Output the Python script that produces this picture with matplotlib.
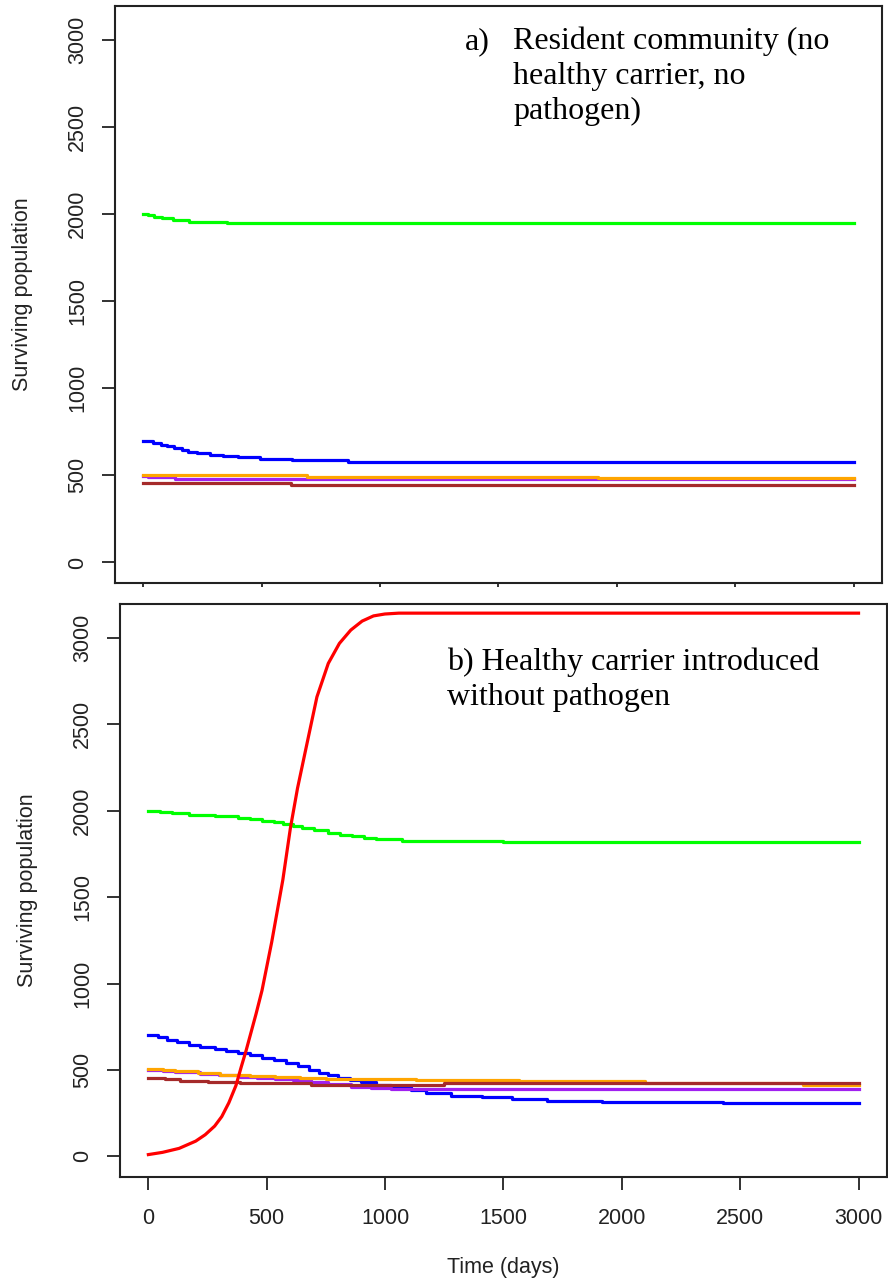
import matplotlib
matplotlib.use("Agg")
import matplotlib.pyplot as plt

# ── Panel a: resident community only (step change points) ────────────────────
a_green_t = [0, 21, 45, 80, 124, 194, 352, 3000]
a_green_v = [2000, 1994, 1986, 1977, 1967, 1957, 1950, 1950]

a_blue_t = [0, 21, 42, 73, 101, 129, 162, 190, 225, 281, 335, 401, 493, 626, 866, 3000]
a_blue_v = [700, 695, 685, 676, 666, 657, 647, 637, 628, 618, 612, 605, 595, 588, 578, 578]

a_orange_t = [0, 690, 1920, 3000]
a_orange_v = [500, 493, 486, 486]

a_purple_t = [0, 21, 133, 3000]
a_purple_v = [498, 490, 480, 480]

a_brown_t = [0, 622, 3000]
a_brown_v = [455, 445, 445]

# ── Panel b: healthy carrier introduced ──────────────────────────────────────
b_green_t = [0, 50, 100, 170, 280, 380, 430, 480, 530, 570, 610, 650, 700, 760,
             810, 860, 910, 960, 1070, 1500, 3000]
b_green_v = [2000, 1993, 1987, 1977, 1970, 1960, 1952, 1943, 1935, 1925, 1912,
             1900, 1888, 1874, 1862, 1852, 1843, 1835, 1824, 1817, 1817]

b_blue_t = [0, 40, 80, 120, 170, 220, 280, 330, 380, 430, 480, 530, 580, 630,
            680, 720, 760, 800, 850, 900, 960, 1025, 1110, 1174, 1280, 1408,
            1535, 1684, 1917, 2427, 3000]
b_blue_v = [700, 688, 672, 660, 645, 632, 620, 608, 596, 584, 570, 556, 540, 522,
            502, 485, 468, 452, 440, 428, 415, 404, 385, 368, 352, 342, 332,
            322, 317, 307, 307]

b_orange_t = [0, 60, 113, 208, 304, 431, 537, 640, 750, 1132, 1567, 2097, 2766, 3000]
b_orange_v = [505, 497, 492, 483, 473, 465, 458, 452, 448, 442, 436, 423, 413, 413]

b_purple_t = [0, 60, 113, 219, 300, 389, 460, 537, 610, 686, 760, 856, 940, 1025, 3000]
b_purple_v = [497, 492, 487, 477, 469, 461, 455, 448, 440, 431, 418, 404, 396, 390, 390]

b_brown_t = [0, 70, 134, 250, 389, 686, 1250, 3000]
b_brown_v = [455, 446, 438, 433, 424, 415, 424, 424]

b_red_t = [0, 60, 130, 200, 240, 280, 310, 340, 370, 392, 413, 434, 455, 480,
           521, 568, 600, 630, 664, 712, 760, 807, 855, 903, 951, 999, 1058, 3000]
b_red_v = [10, 23, 46, 88, 125, 175, 230, 310, 410, 516, 613, 719, 825, 960,
           1240, 1600, 1900, 2130, 2350, 2659, 2853, 2969, 3046, 3098, 3128,
           3139, 3144, 3144]

x_ticks = [0, 500, 1000, 1500, 2000, 2500, 3000]
y_ticks = [0, 500, 1000, 1500, 2000, 2500, 3000]

GREEN, BLUE, ORANGE, PURPLE, BROWN, RED = (
    "#00ff00", "#0000ff", "#ffa500", "#a020f0", "#a52a2a", "#ff0000")
LW = 2.3
TXT = "#222222"

fig = plt.figure(figsize=(8.88, 12.87), dpi=100)
ax1 = fig.add_axes([0.1295, 0.5470, 0.8637, 0.4486])
ax2 = fig.add_axes([0.1351, 0.0857, 0.8637, 0.4450])


def style(ax):
    ax.set_xlim(-120, 3120)
    ax.set_ylim(-118, 3197)
    ax.set_xticks(x_ticks)
    ax.set_yticks(y_ticks)
    for s in ax.spines.values():
        s.set_color(TXT)
        s.set_linewidth(1.5)
    ax.tick_params(axis="y", length=9.5, width=1.3, pad=10, labelsize=15.5,
                   colors=TXT, labelrotation=90)
    for lab in ax.get_yticklabels():
        lab.set_va("center")
        lab.set_family("Liberation Sans")
    ax.set_ylabel("Surviving population", fontsize=15.5, color=TXT,
                  family="Liberation Sans")
    ax.yaxis.label.set_va("center")


style(ax1)
style(ax2)
ax1.tick_params(axis="x", length=3, width=1.3, labelbottom=False, colors=TXT)
ax2.tick_params(axis="x", length=9.5, width=1.3, pad=13, labelsize=15.5, colors=TXT)
for lab in ax2.get_xticklabels():
    lab.set_family("Liberation Sans")
ax1.yaxis.set_label_coords(-0.121, 0.5)
ax2.yaxis.set_label_coords(-0.120, 0.5)
ax2.set_xlabel("Time (days)", fontsize=15.5, color=TXT, family="Liberation Sans")
ax2.xaxis.set_label_coords(0.5, -0.158)
ax2.xaxis.label.set_va("center")

# ── Draw series ──────────────────────────────────────────────────────────────
ax1.plot(a_green_t, a_green_v, color=GREEN, lw=LW, drawstyle="steps-post")
ax1.plot(a_blue_t, a_blue_v, color=BLUE, lw=LW, drawstyle="steps-post")
ax1.plot(a_purple_t, a_purple_v, color=PURPLE, lw=LW, drawstyle="steps-post")
ax1.plot(a_orange_t, a_orange_v, color=ORANGE, lw=LW, drawstyle="steps-post")
ax1.plot(a_brown_t, a_brown_v, color=BROWN, lw=LW, drawstyle="steps-post")

ax2.plot(b_green_t, b_green_v, color=GREEN, lw=LW, drawstyle="steps-post")
ax2.plot(b_blue_t, b_blue_v, color=BLUE, lw=LW, drawstyle="steps-post")
ax2.plot(b_purple_t, b_purple_v, color=PURPLE, lw=LW, drawstyle="steps-post")
ax2.plot(b_orange_t, b_orange_v, color=ORANGE, lw=LW, drawstyle="steps-post")
ax2.plot(b_brown_t, b_brown_v, color=BROWN, lw=LW, drawstyle="steps-post")
ax2.plot(b_red_t, b_red_v, color=RED, lw=LW)

# ── Panel captions ───────────────────────────────────────────────────────────
serif = dict(family="Liberation Serif", fontsize=23, color="black", va="center")
ax1.text(0.456, 0.9376, "a)", transform=ax1.transAxes, **serif)
ax1.text(0.519, 0.9376, "Resident community (no", transform=ax1.transAxes, **serif)
ax1.text(0.519, 0.877, "healthy carrier, no", transform=ax1.transAxes, **serif)
ax1.text(0.519, 0.816, "pathogen)", transform=ax1.transAxes, **serif)

ax2.text(0.4263, 0.8987, "b) Healthy carrier introduced", transform=ax2.transAxes, **serif)
ax2.text(0.4263, 0.8359, "without pathogen", transform=ax2.transAxes, **serif)

plt.savefig("out.png", dpi=100, facecolor="white")
